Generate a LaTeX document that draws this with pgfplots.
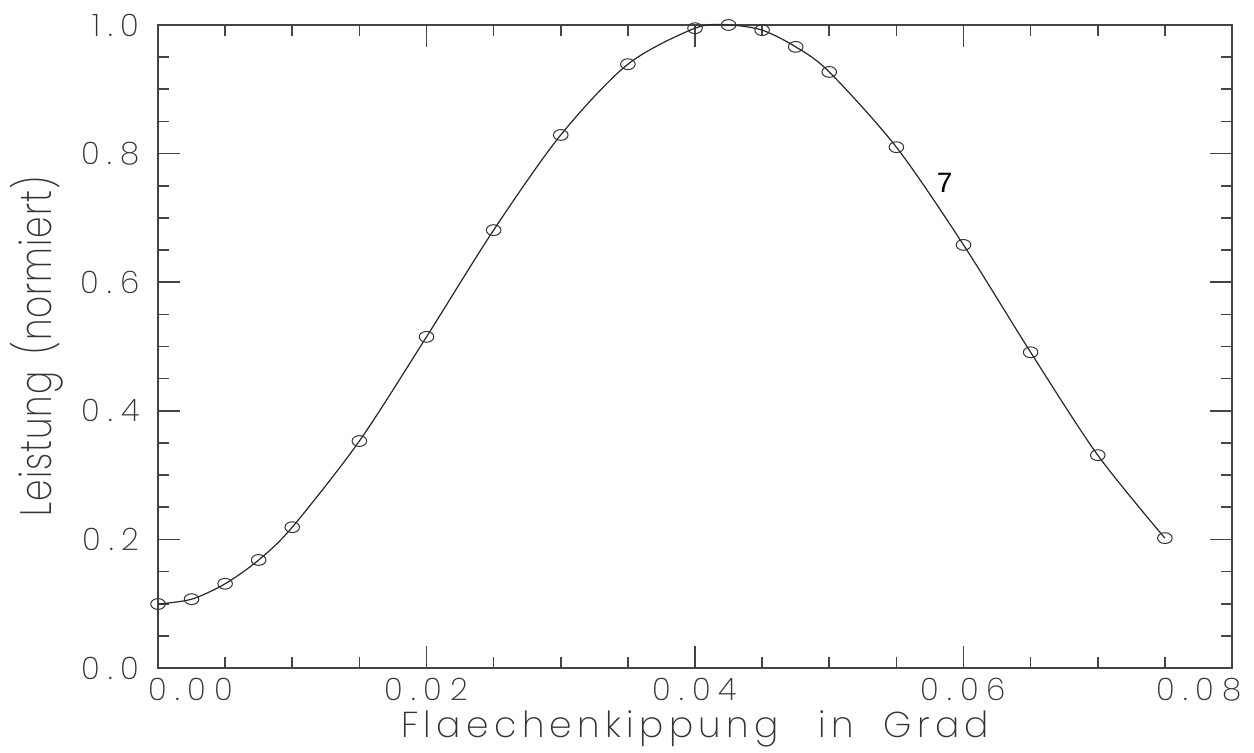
\documentclass[border=0pt]{standalone}
\usepackage{fontspec}
\setmainfont{Poppins ExtraLight}[LetterSpace=26]
\newfontfamily\labfont{Poppins ExtraLight}[LetterSpace=15]
\newfontfamily\ylabfont{Poppins ExtraLight}[LetterSpace=3]
\newfontfamily\arialfont{Liberation Sans}
\usepackage{pgfplots}
\pgfplotsset{compat=1.18}
\definecolor{axgray}{HTML}{444444}
\definecolor{txtgray}{HTML}{333333}
\begin{document}
\begin{tikzpicture}
\begin{axis}[
  name=ax,
  scale only axis,
  width=537bp, height=321.5bp,
  xmin=0, xmax=0.08, ymin=0, ymax=1,
  scaled x ticks=false, scaled y ticks=false,
  axis line style={axgray, line width=1bp},
  tick style={axgray, line width=0.8bp},
  tick align=inside,
  xtick={0,0.02,0.04,0.06,0.08},
  minor x tick num=3,
  ytick={0,0.2,0.4,0.6,0.8,1.0},
  minor y tick num=3,
  major tick length=11bp,
  minor tick length=5.5bp,
  xticklabel={\ifcase\ticknum\relax\hspace*{33bp}0.00\or 0.02\or 0.04\or 0.06\or 0.08\hspace*{33bp}\fi},
  yticklabel={\ifcase\ticknum\relax 0.0\or 0.2\or 0.4\or 0.6\or 0.8\or 1.0\fi},
  every tick label/.append style={font=\fontsize{15.5bp}{18bp}\selectfont, text=txtgray},
  xticklabel style={anchor=north, inner sep=0pt, yshift=-5bp},
  yticklabel style={anchor=east, inner sep=0pt, xshift=-9bp},
  xlabel={\labfont Flaechenkippung\hspace{12bp} in\hspace{7bp} Grad},
  ylabel={\scalebox{0.78}[1]{\ylabfont Leistung\hspace{4bp} (normiert)}},
  every axis x label/.style={at={(axis description cs:0.5,0)}, anchor=north, yshift=-21bp, inner sep=0pt, font=\fontsize{18bp}{21bp}\selectfont, text=txtgray},
  every axis y label/.style={at={(axis description cs:-0.1127,0.5)}, anchor=center, rotate=90, inner sep=0pt, font=\fontsize{22bp}{25bp}\selectfont, text=txtgray},
  clip=false,
]
\addplot[black!85, line width=0.6bp, smooth, mark=o, mark size=2.7bp,
  mark options={xscale=1.35, line width=0.5bp, draw=black!80, fill=none}]
coordinates {
(0,0.0995) (0.0025,0.107) (0.005,0.131) (0.0075,0.168) (0.01,0.219)
(0.015,0.353) (0.02,0.515) (0.025,0.681) (0.03,0.829) (0.035,0.939)
(0.04,0.995) (0.0425,1.0) (0.045,0.992) (0.0475,0.966) (0.05,0.927)
(0.055,0.810) (0.06,0.658) (0.065,0.491) (0.07,0.331) (0.075,0.202)
};
\node[font=\arialfont\fontsize{14bp}{16bp}\selectfont, anchor=center] at (axis cs:0.0586,0.754) {7};
\end{axis}
\pgfresetboundingbox
\path[use as bounding box] ([xshift=-79bp,yshift=-42.5bp]ax.south west) rectangle ([xshift=11bp,yshift=12.5bp]ax.north east);
\end{tikzpicture}
\end{document}
